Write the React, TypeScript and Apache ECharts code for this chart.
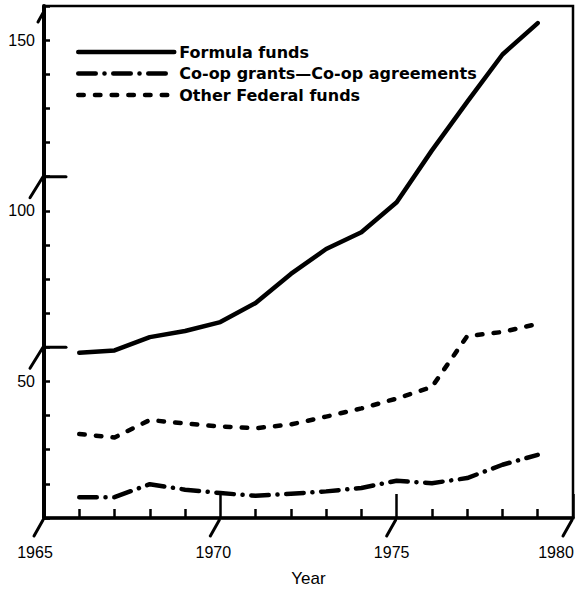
import React, { useEffect, useRef } from "react";
import * as echarts from "echarts";

const years = [1966, 1967, 1968, 1969, 1970, 1971, 1972, 1973, 1974, 1975, 1976, 1977, 1978, 1979];
const formulaFunds = [58.4, 59.1, 63.0, 64.8, 67.4, 73.0, 81.5, 88.8, 93.7, 102.5, 117.7, 131.9, 145.8, 155.0];
const coopGrants = [16.1, 16.1, 19.9, 18.3, 17.3, 16.5, 17.1, 17.8, 18.8, 20.9, 20.2, 21.7, 25.6, 28.5];
const otherFederal = [34.6, 33.6, 38.7, 37.7, 36.8, 36.3, 37.4, 39.7, 42.1, 45.0, 48.4, 63.3, 64.5, 66.9];
const seriesNames = ["Formula funds", "Co-op grants\u2014Co-op agreements", "Other Federal funds"];
const xLabelYears = [1965, 1970, 1975, 1980];
const yLabelValues = [50, 100, 150];
const yBreakValues = [60, 110];

const pair = (xs: number[], ys: number[]) => xs.map((x, i) => [x, ys[i]]);

export default function App() {
  const ref = useRef<HTMLDivElement>(null);
  useEffect(() => {
    document.body.style.margin = "0";
    if (!ref.current) return;
    const chart = echarts.init(ref.current, null, { renderer: "svg" });
    const black = "#000";
    const clear = "rgba(0,0,0,0)";
    const labelFont = "Liberation Sans, Arial, sans-serif";
    const richBase = { fontFamily: labelFont, fontSize: 16, color: black };
    const option: any = {
      animation: false,
      backgroundColor: "#fff",
      grid: {
        left: 44,
        right: 6,
        top: 6,
        bottom: 72,
        show: true,
        borderColor: black,
        borderWidth: 2.5,
        backgroundColor: "transparent",
      },
      legend: {
        orient: "vertical",
        left: 71,
        top: 39,
        itemWidth: 96,
        itemHeight: 14,
        itemGap: 5.5,
        selectedMode: false,
        data: seriesNames,
        lineStyle: { width: 4.5 },
        itemStyle: { color: clear, borderColor: clear, borderWidth: 0 },
        textStyle: {
          fontFamily: "DejaVu Sans, sans-serif",
          fontWeight: "bold",
          fontSize: 16,
          lineHeight: 16,
          color: black,
        },
      },
      xAxis: {
        type: "value",
        min: 1965,
        max: 1980,
        interval: 5,
        name: "Year",
        nameLocation: "middle",
        nameGap: 52,
        nameTextStyle: { fontFamily: labelFont, fontSize: 17, color: black },
        axisLine: { show: true, lineStyle: { color: black, width: 3.5 } },
        axisTick: { show: true, inside: true, length: 24, lineStyle: { color: black, width: 2.5 } },
        minorTick: { show: true, splitNumber: 5, length: 9, lineStyle: { color: black, width: 2.5 } },
        splitLine: { show: false },
        minorSplitLine: { show: false },
        axisLabel: {
          margin: 26,
          formatter: (v: number) => {
            if (v === 1965) return "{a|1965}";
            if (v === 1970) return "{b|1970}";
            if (v === 1975) return "{c|1975}";
            if (v === 1980) return "{d|1980}";
            return "";
          },
          rich: {
            a: { ...richBase, padding: [0, 18, 0, 0] },
            b: { ...richBase, padding: [0, 14, 0, 0] },
            c: { ...richBase, padding: [0, 10, 0, 0] },
            d: { ...richBase, padding: [0, 34, 0, 0] },
          },
        },
      },
      yAxis: {
        type: "value",
        min: 10,
        max: 160,
        interval: 10,
        axisLine: { show: true, lineStyle: { color: black, width: 4 } },
        axisTick: { show: true, inside: true, length: 6, lineStyle: { color: black, width: 2.5 } },
        splitLine: { show: false },
        axisLabel: {
          margin: 9,
          fontFamily: labelFont,
          fontSize: 16,
          color: black,
          formatter: (v: number) => (yLabelValues.includes(v) ? String(v) : ""),
        },
      },
      series: [
        {
          name: seriesNames[0],
          type: "line",
          data: pair(years, formulaFunds),
          symbol: "none",
          lineStyle: { color: black, width: 4.5, type: "solid", cap: "round", join: "round" },
          itemStyle: { color: black },
        },
        {
          name: seriesNames[1],
          type: "line",
          data: pair(years, coopGrants),
          symbol: "none",
          lineStyle: { color: black, width: 4.5, type: [17.5, 8.7, 0.1, 8.7], cap: "round", join: "round" },
          itemStyle: { color: black },
        },
        {
          name: seriesNames[2],
          type: "line",
          data: pair(years, otherFederal),
          symbol: "none",
          lineStyle: { color: black, width: 4.5, type: [5.5, 11.2], cap: "round", join: "round" },
          itemStyle: { color: black },
        },
      ],
    };
    chart.setOption(option);

    const px = (x: number, y: number) => chart.convertToPixel({ gridIndex: 0 }, [x, y]) as number[];
    const stroke = { stroke: black, lineWidth: 3, lineCap: "round" };
    const graphic: any[] = [];
    yBreakValues.forEach((v) => {
      const [x, y] = px(1965, v);
      graphic.push({ type: "line", shape: { x1: x, y1: y, x2: x + 22, y2: y }, style: stroke, z: 100 });
      graphic.push({ type: "line", shape: { x1: x - 1, y1: y, x2: x - 14, y2: y + 21 }, style: stroke, z: 100 });
    });
    const [tx, ty] = px(1965, 160);
    graphic.push({ type: "line", shape: { x1: tx - 1, y1: ty + 7, x2: tx - 6, y2: ty + 16 }, style: stroke, z: 100 });
    xLabelYears.forEach((yr) => {
      const [x, y] = px(yr, 10);
      graphic.push({ type: "line", shape: { x1: x - 1, y1: y + 2, x2: x - 10, y2: y + 18 }, style: stroke, z: 100 });
    });
    chart.setOption({ graphic });

    return () => chart.dispose();
  }, []);
  return <div ref={ref} style={{ width: 579, height: 592 }} />;
}
